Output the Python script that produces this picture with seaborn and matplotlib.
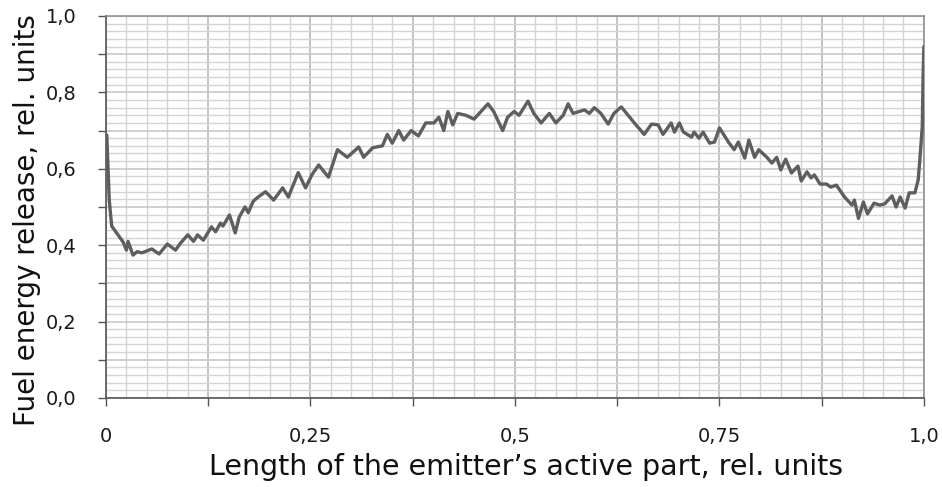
import numpy as np
import pandas as pd
import matplotlib
matplotlib.use("Agg")
import matplotlib.pyplot as plt
from matplotlib.ticker import MultipleLocator, FixedLocator, FixedFormatter
import seaborn as sns

# Data
x_len = [0.001, 0.004, 0.007, 0.013, 0.017, 0.021, 0.025, 0.027, 0.033, 0.038,
         0.044, 0.056, 0.065, 0.075, 0.085, 0.091, 0.100, 0.107, 0.112, 0.119,
         0.129, 0.134, 0.140, 0.143, 0.151, 0.158, 0.163, 0.170, 0.174, 0.180,
         0.186, 0.195, 0.205, 0.216, 0.223, 0.235, 0.244, 0.252, 0.260, 0.272,
         0.283, 0.295, 0.309, 0.315, 0.326, 0.338, 0.344, 0.350, 0.358, 0.364,
         0.373, 0.382, 0.391, 0.401, 0.407, 0.413, 0.418, 0.424, 0.430, 0.440,
         0.450, 0.467, 0.474, 0.485, 0.491, 0.499, 0.505, 0.516, 0.523, 0.532,
         0.542, 0.550, 0.559, 0.565, 0.571, 0.585, 0.591, 0.597, 0.605, 0.614,
         0.621, 0.630, 0.646, 0.658, 0.667, 0.675, 0.681, 0.691, 0.695, 0.701,
         0.706, 0.716, 0.719, 0.725, 0.730, 0.738, 0.744, 0.750, 0.761, 0.768,
         0.773, 0.781, 0.786, 0.793, 0.798, 0.808, 0.814, 0.820, 0.825, 0.831,
         0.838, 0.846, 0.850, 0.857, 0.862, 0.866, 0.873, 0.881, 0.886, 0.893,
         0.903, 0.912, 0.915, 0.920, 0.926, 0.931, 0.939, 0.946, 0.952, 0.961,
         0.966, 0.971, 0.977, 0.982, 0.989, 0.993, 0.995, 0.998, 0.999, 1.000]
energy = [0.688, 0.518, 0.450, 0.432, 0.420, 0.408, 0.387, 0.410, 0.374, 0.383,
          0.380, 0.390, 0.377, 0.403, 0.387, 0.405, 0.427, 0.410, 0.427, 0.413,
          0.448, 0.435, 0.458, 0.450, 0.479, 0.432, 0.474, 0.500, 0.485, 0.515,
          0.526, 0.540, 0.518, 0.550, 0.526, 0.590, 0.550, 0.585, 0.610, 0.578,
          0.650, 0.630, 0.657, 0.630, 0.655, 0.660, 0.690, 0.667, 0.700, 0.675,
          0.700, 0.686, 0.720, 0.720, 0.735, 0.700, 0.750, 0.715, 0.745, 0.740,
          0.730, 0.770, 0.750, 0.700, 0.735, 0.750, 0.740, 0.777, 0.745, 0.720,
          0.745, 0.720, 0.740, 0.770, 0.745, 0.754, 0.745, 0.760, 0.745, 0.717,
          0.745, 0.762, 0.720, 0.690, 0.717, 0.715, 0.690, 0.720, 0.696, 0.720,
          0.696, 0.683, 0.696, 0.680, 0.696, 0.667, 0.670, 0.707, 0.670, 0.650,
          0.670, 0.628, 0.675, 0.630, 0.650, 0.630, 0.615, 0.630, 0.597, 0.625,
          0.589, 0.607, 0.568, 0.592, 0.576, 0.584, 0.560, 0.560, 0.552, 0.557,
          0.526, 0.505, 0.518, 0.470, 0.513, 0.482, 0.510, 0.505, 0.508, 0.529,
          0.500, 0.526, 0.497, 0.537, 0.537, 0.571, 0.623, 0.710, 0.840, 0.920]

x_ticks = [0, 0.125, 0.25, 0.375, 0.5, 0.625, 0.75, 0.875, 1.0]
x_tick_labels = ["0", "", "0,25", "", "0,5", "", "0,75", "", "1,0"]
y_ticks = [0.0, 0.1, 0.2, 0.3, 0.4, 0.5, 0.6, 0.7, 0.8, 0.9, 1.0]
y_tick_labels = ["0,0", "", "0,2", "", "0,4", "", "0,6", "", "0,8", "", "1,0"]

sns.set_style("white")
plt.rcParams["font.family"] = ["DejaVu Sans"]

fig = plt.figure(figsize=(9.42, 4.87), dpi=100)
ax = fig.add_axes([0.1125, 0.1828, 0.8683, 0.7844])

df = pd.DataFrame({"x": x_len, "y": energy})
sns.lineplot(data=df, x="x", y="y", ax=ax, sort=False, color="#5e5e5e",
             linewidth=2.4, solid_joinstyle="round", solid_capstyle="round", zorder=5)

ax.set_xlim(0, 1.0)
ax.set_ylim(0, 1.0)

ax.xaxis.set_major_locator(FixedLocator(x_ticks))
ax.xaxis.set_major_formatter(FixedFormatter(x_tick_labels))
ax.yaxis.set_major_locator(FixedLocator(y_ticks))
ax.yaxis.set_major_formatter(FixedFormatter(y_tick_labels))
ax.xaxis.set_minor_locator(MultipleLocator(0.025))
ax.yaxis.set_minor_locator(MultipleLocator(0.02))

ax.grid(which="minor", color="#d4d4d4", linewidth=1.0)
ax.grid(which="major", axis="x", color="#b4b4b4", linewidth=1.1)
ax.grid(which="major", axis="y", color="#c4c4c4", linewidth=1.1)
ax.set_axisbelow(True)

ax.tick_params(which="major", direction="out", length=6, width=1.0, color="#555555",
               labelsize=14, labelcolor="#1a1a1a")
ax.tick_params(axis="x", which="major", pad=15)
ax.tick_params(axis="y", which="major", pad=15)
ax.tick_params(which="minor", length=0)
ax.tick_params(bottom=True, left=True)

for side in ["left", "bottom"]:
    ax.spines[side].set_color("#555555")
    ax.spines[side].set_linewidth(1.2)
for side in ["top", "right"]:
    ax.spines[side].set_color("#8a8a8a")
    ax.spines[side].set_linewidth(1.1)

ax.set_xlabel("Length of the emitter\u2019s active part, rel. units", fontsize=20.5,
              color="#111111")
ax.set_ylabel("Fuel energy release, rel. units", fontsize=20, color="#111111")
ax.xaxis.set_label_coords(0.513, -0.145)
ax.yaxis.set_label_coords(-0.08, 0.466)

fig.savefig("out.png", dpi=100, facecolor="white")
